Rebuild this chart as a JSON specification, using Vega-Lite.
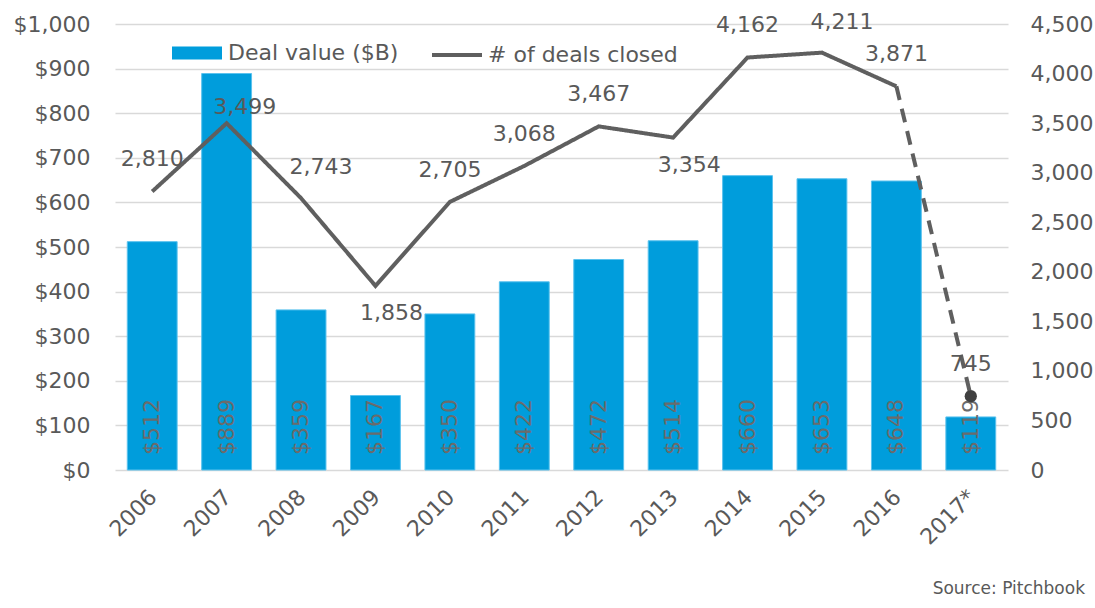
{
  "$schema": "https://vega.github.io/schema/vega-lite/v6.json",
  "width": 893,
  "height": 446,
  "autosize": {"type": "none"},
  "padding": {"left": 115, "top": 24, "right": 87, "bottom": 138},
  "background": "white",
  "config": {
    "view": {"stroke": null},
    "font": "DejaVu Sans",
    "text": {"font": "DejaVu Sans"}
  },
  "title": {
    "text": "Source: Pitchbook",
    "orient": "bottom",
    "anchor": "end",
    "frame": "group",
    "dx": 77,
    "fontSize": 17,
    "fontWeight": "normal",
    "color": "#595959",
    "offset": 33
  },
  "datasets": {
    "bars": [
      {"year": "2006", "value": 512, "deals": 2810},
      {"year": "2007", "value": 889, "deals": 3499},
      {"year": "2008", "value": 359, "deals": 2743},
      {"year": "2009", "value": 167, "deals": 1858},
      {"year": "2010", "value": 350, "deals": 2705},
      {"year": "2011", "value": 422, "deals": 3068},
      {"year": "2012", "value": 472, "deals": 3467},
      {"year": "2013", "value": 514, "deals": 3354},
      {"year": "2014", "value": 660, "deals": 4162},
      {"year": "2015", "value": 653, "deals": 4211},
      {"year": "2016", "value": 648, "deals": 3871},
      {"year": "2017*", "value": 119, "deals": 745}
    ],
    "line": [
      {"year": "2006", "deals": 2810, "seg": "actual"},
      {"year": "2007", "deals": 3499, "seg": "actual"},
      {"year": "2008", "deals": 2743, "seg": "actual"},
      {"year": "2009", "deals": 1858, "seg": "actual"},
      {"year": "2010", "deals": 2705, "seg": "actual"},
      {"year": "2011", "deals": 3068, "seg": "actual"},
      {"year": "2012", "deals": 3467, "seg": "actual"},
      {"year": "2013", "deals": 3354, "seg": "actual"},
      {"year": "2014", "deals": 4162, "seg": "actual"},
      {"year": "2015", "deals": 4211, "seg": "actual"},
      {"year": "2016", "deals": 3871, "seg": "actual"},
      {"year": "2016", "deals": 3871, "seg": "estimate"},
      {"year": "2017*", "deals": 745, "seg": "estimate"}
    ]
  },
  "encoding": {
    "x": {
      "field": "year",
      "type": "nominal",
      "sort": null,
      "scale": {"paddingInner": 0.33, "paddingOuter": 0.165},
      "axis": {
        "title": null,
        "labelAngle": -45,
        "labelFontSize": 22,
        "labelColor": "#595959",
        "ticks": false,
        "domain": false,
        "labelPadding": 16,
        "labelOffset": -6
      }
    }
  },
  "layer": [
    {
      "data": {"name": "bars"},
      "encoding": {
        "y": {
          "field": "value",
          "type": "quantitative",
          "scale": {"domain": [0, 1000], "nice": false},
          "axis": {
            "orient": "left",
            "title": null,
            "values": [0, 100, 200, 300, 400, 500, 600, 700, 800, 900, 1000],
            "format": "$,.0f",
            "grid": true,
            "gridColor": "#d9d9d9",
            "gridWidth": 1.5,
            "domain": false,
            "ticks": false,
            "labelPadding": 25,
            "labelFontSize": 22,
            "labelColor": "#595959"
          }
        }
      },
      "layer": [
        {
          "mark": {"type": "bar", "stroke": "#5bc2ee", "strokeWidth": 1},
          "encoding": {
            "fill": {
              "datum": "Deal value ($B)",
              "type": "nominal",
              "scale": {"range": ["#009ddc"]},
              "legend": {
                "orient": "none",
                "legendX": 57,
                "legendY": 4,
                "title": null,
                "padding": 0,
                "symbolType": "M-1,-0.26H1V0.26H-1Z",
                "symbolSize": 2500,
                "symbolStrokeWidth": 0,
                "symbolOpacity": 1,
                "labelFontSize": 22,
                "labelColor": "#595959",
                "labelOffset": 6,
                "labelLimit": 400
              }
            }
          }
        },
        {
          "mark": {"type": "text", "angle": 270, "align": "left", "baseline": "middle", "dx": 15, "fontSize": 22, "color": "#6b6b6b"},
          "encoding": {
            "y": {"datum": 0, "type": "quantitative"},
            "text": {"field": "value", "type": "quantitative", "format": "$,.0f"}
          }
        }
      ]
    },
    {
      "encoding": {
        "y": {
          "field": "deals",
          "type": "quantitative",
          "scale": {"domain": [0, 4500], "nice": false},
          "axis": {
            "orient": "right",
            "title": null,
            "values": [0, 500, 1000, 1500, 2000, 2500, 3000, 3500, 4000, 4500],
            "format": ",.0f",
            "grid": false,
            "domain": false,
            "ticks": false,
            "labelPadding": 22,
            "labelFontSize": 22,
            "labelColor": "#595959"
          }
        }
      },
      "layer": [
        {
          "data": {"name": "line"},
          "mark": {"type": "line", "strokeWidth": 4, "strokeJoin": "miter"},
          "encoding": {
            "detail": {"field": "seg"},
            "strokeDash": {
              "field": "seg",
              "type": "nominal",
              "scale": {"domain": ["actual", "estimate"], "range": [[1, 0], [14, 9]]},
              "legend": null
            },
            "stroke": {
              "datum": "# of deals closed",
              "type": "nominal",
              "scale": {"range": ["#5f5f5f"]},
              "legend": {
                "orient": "none",
                "legendX": 315,
                "legendY": 4,
                "title": null,
                "padding": 0,
                "symbolType": "M-1,0H1",
                "symbolSize": 2500,
                "symbolStrokeWidth": 4,
                "labelFontSize": 22,
                "labelColor": "#595959",
                "labelOffset": 4,
                "labelLimit": 400
              }
            }
          }
        },
        {
          "data": {"name": "bars"},
          "transform": [{"filter": "datum.year === '2017*'"}],
          "mark": {"type": "point", "filled": true, "size": 150, "color": "#404040", "opacity": 1}
        },
        {
          "data": {"name": "bars"},
          "transform": [{"filter": "indexof(['2006','2010','2011','2012','2014','2016','2017*'], datum.year) >= 0"}],
          "mark": {"type": "text", "dy": -32, "fontSize": 22, "color": "#595959"},
          "encoding": {
            "text": {"field": "deals", "type": "quantitative", "format": ",.0f"}
          }
        },
        {
          "data": {"name": "bars"},
          "transform": [{"filter": "indexof(['2008','2015'], datum.year) >= 0"}],
          "mark": {"type": "text", "dx": 20, "dy": -31, "fontSize": 22, "color": "#595959"},
          "encoding": {
            "text": {"field": "deals", "type": "quantitative", "format": ",.0f"}
          }
        },
        {
          "data": {"name": "bars"},
          "transform": [{"filter": "datum.year === '2007'"}],
          "mark": {"type": "text", "dx": 18, "dy": -16, "fontSize": 22, "color": "#595959"},
          "encoding": {
            "text": {"field": "deals", "type": "quantitative", "format": ",.0f"}
          }
        },
        {
          "data": {"name": "bars"},
          "transform": [{"filter": "indexof(['2009','2013'], datum.year) >= 0"}],
          "mark": {"type": "text", "dx": 16, "dy": 27, "fontSize": 22, "color": "#595959"},
          "encoding": {
            "text": {"field": "deals", "type": "quantitative", "format": ",.0f"}
          }
        }
      ]
    }
  ],
  "resolve": {"scale": {"y": "independent"}}
}
